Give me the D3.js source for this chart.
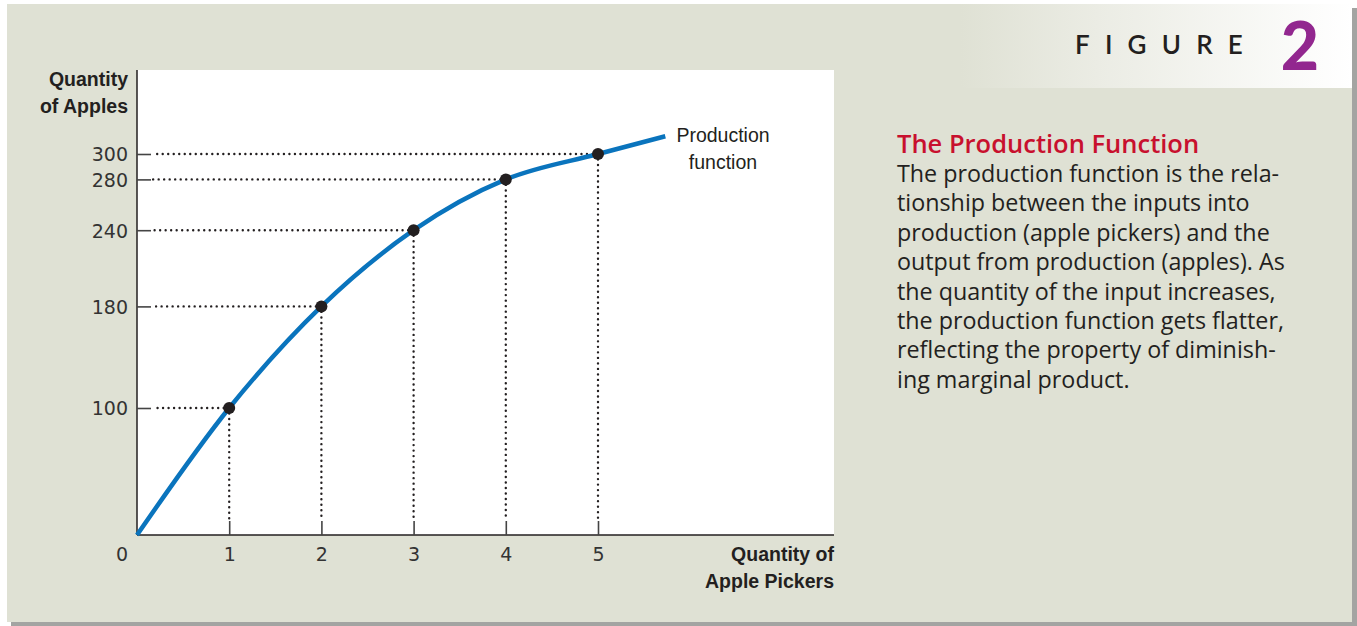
<!DOCTYPE html>
<html><head><meta charset="utf-8">
<script src="https://cdn.jsdelivr.net/npm/d3@7"></script>
<style>
html,body{margin:0;padding:0;background:#fff;}
svg{display:block;}
</style></head>
<body>
<script>
const workers = [0, 1, 2, 3, 4, 5, 5.73];
const apples = [0, 100, 180, 240, 280, 300, 314];
const markedWorkers = [1, 2, 3, 4, 5];
const markedApples = [100, 180, 240, 280, 300];
const xTickLabels = ["1", "2", "3", "4", "5"];
const yTickLabels = ["100", "180", "240", "280", "300"];
const bodyLines = [
  "The production function is the rela-",
  "tionship between the inputs into",
  "production (apple pickers) and the",
  "output from production (apples). As",
  "the quantity of the input increases,",
  "the production function gets flatter,",
  "reflecting the property of diminish-",
  "ing marginal product."
];

const W = 1357, H = 626;
const svg = d3.select("body").append("svg").attr("width", W).attr("height", H);

const tickFont = "'DejaVu Sans', Verdana, sans-serif";
const labFont = "'Liberation Sans', Arial, sans-serif";
const capFont = "'Open Sans', Lato, sans-serif";

// shadow + panel
svg.append("rect").attr("x", 0).attr("y", 0).attr("width", W).attr("height", H).attr("fill", "#fff");
svg.append("rect").attr("x", 11).attr("y", 8).attr("width", 1346).attr("height", 618).attr("fill", "#a3a4a2");
svg.append("rect").attr("x", 7).attr("y", 4).attr("width", 1345).attr("height", 618).attr("fill", "#dfe1d4");

const defs = svg.append("defs");
const g1 = defs.append("linearGradient").attr("id", "hdr").attr("x1", "0").attr("x2", "1").attr("y1", "0").attr("y2", "0");
g1.append("stop").attr("offset", "0").attr("stop-color", "#dfe1d4");
g1.append("stop").attr("offset", "0.35").attr("stop-color", "#ebece4");
g1.append("stop").attr("offset", "1").attr("stop-color", "#ffffff");
svg.append("rect").attr("x", 960).attr("y", 4).attr("width", 392).attr("height", 84).attr("fill", "url(#hdr)");

svg.append("text").attr("x", 1075).attr("y", 54)
  .attr("font-family", "Lato, 'Open Sans', sans-serif").attr("font-weight", 600)
  .attr("font-size", 26).attr("letter-spacing", 15.2).attr("fill", "#231f20").text("FIGURE");
svg.append("text").attr("x", 1300).attr("y", 70).attr("text-anchor", "middle")
  .attr("font-family", "Lato, 'Open Sans', sans-serif").attr("font-weight", 900)
  .attr("font-size", 66).attr("fill", "#92278f").text("2");

// plot area
const x0 = 137, x1 = 834, yTop = 70, y0 = 535;
const x = d3.scaleLinear().domain([0, 1]).range([x0, x0 + 92.2]);
const y = d3.scaleLinear().domain([0, 100]).range([y0, y0 - 127]);

svg.append("rect").attr("x", x0).attr("y", yTop).attr("width", x1 - x0).attr("height", y0 - yTop).attr("fill", "#fff");

const tickLen = 14;
// dotted guide lines
const dotStyle = sel => sel.attr("stroke", "#231f20").attr("stroke-width", 2.4)
  .attr("stroke-dasharray", "0.01,5.5").attr("stroke-linecap", "round").attr("fill", "none");
markedWorkers.forEach((w, i) => {
  const a = markedApples[i];
  svg.append("line").attr("x1", x(w)).attr("x2", x(0) + tickLen + 2).attr("y1", y(a)).attr("y2", y(a)).call(dotStyle);
  svg.append("line").attr("x1", x(w)).attr("x2", x(w)).attr("y1", y(a)).attr("y2", y(0) - tickLen - 1).call(dotStyle);
});

// axes
const xAxis = d3.axisBottom(x).tickValues(markedWorkers).tickFormat((d, i) => xTickLabels[i]).tickSizeInner(-tickLen).tickSizeOuter(0).tickPadding(tickLen + 4);
const yAxis = d3.axisLeft(y).tickValues(markedApples).tickFormat((d, i) => yTickLabels[i]).tickSizeInner(-tickLen).tickSizeOuter(0).tickPadding(9);

const gx = svg.append("g").attr("transform", `translate(0,${y0})`).call(xAxis);
gx.select(".domain").attr("d", `M${x0},0H${x1}`).attr("stroke", "#231f20").attr("stroke-width", 1.5);
gx.selectAll(".tick line").attr("stroke", "#444").attr("stroke-width", 1.6);
gx.selectAll(".tick text").attr("font-family", tickFont).attr("font-size", 19).attr("fill", "#333").attr("dy", "0.4em");

const gy = svg.append("g").attr("transform", `translate(${x0},0)`).call(yAxis);
gy.select(".domain").attr("d", `M0,${yTop}V${y0}`).attr("stroke", "#231f20").attr("stroke-width", 1.5);
gy.selectAll(".tick line").attr("stroke", "#444").attr("stroke-width", 1.6);
gy.selectAll(".tick text").attr("font-family", tickFont).attr("font-size", 19).attr("fill", "#333").attr("dy", "0.36em");

svg.append("text").attr("x", 128).attr("y", 561).attr("text-anchor", "end")
  .attr("font-family", tickFont).attr("font-size", 19).attr("fill", "#333").text("0");

// curve
const line = d3.line().x((d, i) => x(workers[i])).y((d, i) => y(apples[i])).curve(d3.curveMonotoneX);
svg.append("path").datum(apples).attr("d", line).attr("fill", "none").attr("stroke", "#0a74bd").attr("stroke-width", 4.5);

svg.selectAll("circle.pt").data(markedWorkers).enter().append("circle")
  .attr("cx", d => x(d)).attr("cy", (d, i) => y(markedApples[i])).attr("r", 6).attr("fill", "#231f20");

// curve label
const lab = svg.append("text").attr("text-anchor", "middle").attr("font-family", labFont)
  .attr("font-size", 19.5).attr("fill", "#231f20");
lab.append("tspan").attr("x", 723).attr("y", 142).text("Production");
lab.append("tspan").attr("x", 723).attr("y", 169).text("function");

// axis titles
const yt = svg.append("text").attr("text-anchor", "end").attr("font-family", labFont)
  .attr("font-weight", "bold").attr("font-size", 19.5).attr("fill", "#231f20");
yt.append("tspan").attr("x", 128).attr("y", 86).text("Quantity");
yt.append("tspan").attr("x", 128).attr("y", 113).text("of Apples");

const xt = svg.append("text").attr("text-anchor", "end").attr("font-family", labFont)
  .attr("font-weight", "bold").attr("font-size", 19.5).attr("fill", "#231f20");
xt.append("tspan").attr("x", 834).attr("y", 561).text("Quantity of");
xt.append("tspan").attr("x", 834).attr("y", 588).text("Apple Pickers");

// caption
svg.append("text").attr("x", 897).attr("y", 153).attr("font-family", capFont)
  .attr("font-weight", 600).attr("font-size", 25.5).attr("fill", "#c8102e").text("The Production Function");
const body = svg.append("text").attr("font-family", capFont).attr("font-size", 23.3).attr("fill", "#231f20");
bodyLines.forEach((t, i) => body.append("tspan").attr("x", 897).attr("y", 182 + i * 29.4).text(t));
</script>
</body></html>
